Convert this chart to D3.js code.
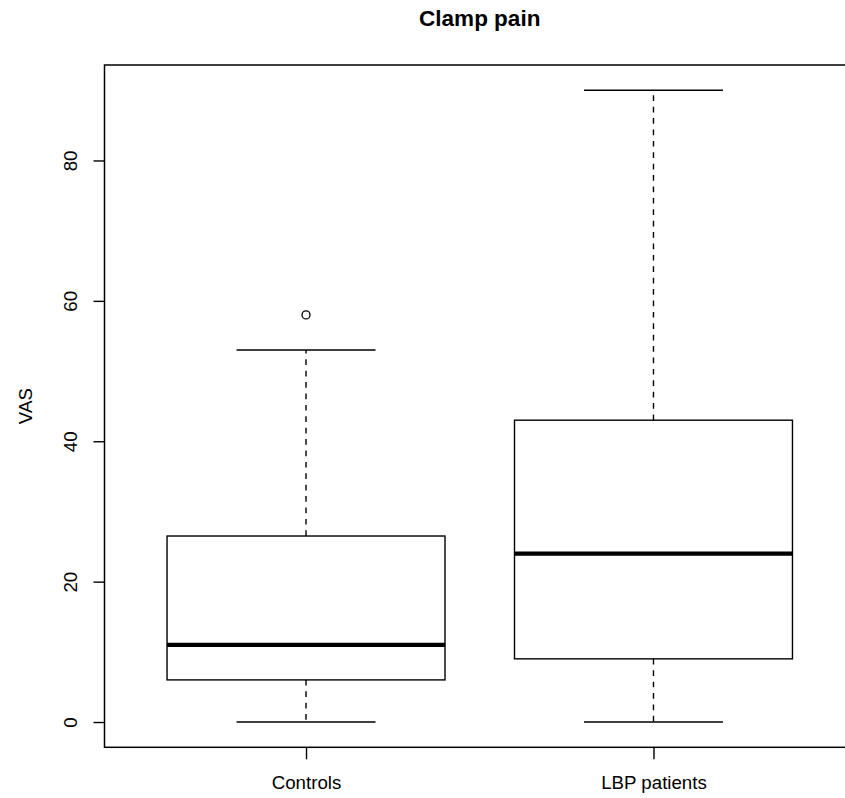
<!DOCTYPE html>
<html>
<head>
<meta charset="utf-8">
<script src="https://cdn.jsdelivr.net/npm/d3@7"></script>
<style>
  body { margin: 0; background: #fff; }
  text { font-family: "Liberation Sans", Arial, sans-serif; fill: #000; }
</style>
</head>
<body>
<div id="chart"></div>
<script>
const groups = ["Controls", "LBP patients"]
const lowerWhisker = [0, 0]
const lowerHinge = [6, 9]
const medians = [11, 24]
const upperHinge = [26.5, 43]
const upperWhisker = [53, 90]
const outliers = [[58], []]
const yTicks = [0, 20, 40, 60, 80]

const width = 845, height = 798
const plot = {left: 104.5, top: 65, bottom: 747.3, right: 855}

const svg = d3.select("#chart").append("svg")
  .attr("width", width)
  .attr("height", height)

// R style: x from 0.42 to 2.58, y padded 4% each side
const x = d3.scaleLinear().domain([0.42, 2.58]).range([plot.left, plot.right])
const y = d3.scaleLinear().domain([-3.6, 93.6]).range([plot.bottom, plot.top])

const boxHalf = 0.4, capHalf = 0.2

const data = groups.map((g, i) => ({
  name: g,
  pos: i + 1,
  lo: lowerWhisker[i],
  q1: lowerHinge[i],
  med: medians[i],
  q3: upperHinge[i],
  hi: upperWhisker[i],
  out: outliers[i]
}))

const boxes = svg.append("g").selectAll("g")
  .data(data)
  .join("g")

// whiskers
boxes.append("line")
  .attr("x1", d => x(d.pos)).attr("x2", d => x(d.pos))
  .attr("y1", d => y(d.q3)).attr("y2", d => y(d.hi))
  .attr("stroke", "#000").attr("stroke-width", 1.4)
  .attr("stroke-dasharray", "5.7,5.7")
boxes.append("line")
  .attr("x1", d => x(d.pos)).attr("x2", d => x(d.pos))
  .attr("y1", d => y(d.q1)).attr("y2", d => y(d.lo))
  .attr("stroke", "#000").attr("stroke-width", 1.4)
  .attr("stroke-dasharray", "5.7,5.7")

// staples
for (const k of ["lo", "hi"]) {
  boxes.append("line")
    .attr("x1", d => x(d.pos - capHalf)).attr("x2", d => x(d.pos + capHalf))
    .attr("y1", d => y(d[k])).attr("y2", d => y(d[k]))
    .attr("stroke", "#000").attr("stroke-width", 1.4)
}

// box
boxes.append("rect")
  .attr("x", d => x(d.pos - boxHalf))
  .attr("width", d => x(d.pos + boxHalf) - x(d.pos - boxHalf))
  .attr("y", d => y(d.q3))
  .attr("height", d => y(d.q1) - y(d.q3))
  .attr("fill", "none")
  .attr("stroke", "#000").attr("stroke-width", 1.4)

// median
boxes.append("line")
  .attr("x1", d => x(d.pos - boxHalf)).attr("x2", d => x(d.pos + boxHalf))
  .attr("y1", d => y(d.med)).attr("y2", d => y(d.med))
  .attr("stroke", "#000").attr("stroke-width", 4.2)

// outliers
boxes.selectAll("circle")
  .data(d => d.out.map(v => ({pos: d.pos, v})))
  .join("circle")
  .attr("cx", d => x(d.pos))
  .attr("cy", d => y(d.v))
  .attr("r", 4)
  .attr("fill", "none")
  .attr("stroke", "#000").attr("stroke-width", 1.3)

// frame
svg.append("rect")
  .attr("x", plot.left).attr("y", plot.top)
  .attr("width", plot.right - plot.left)
  .attr("height", plot.bottom - plot.top)
  .attr("fill", "none")
  .attr("stroke", "#000").attr("stroke-width", 1.5)

// y axis
const yAxis = svg.append("g")
  .attr("transform", `translate(${plot.left},0)`)
  .call(d3.axisLeft(y).tickValues(yTicks).tickSize(11).tickFormat(d3.format("d")))
yAxis.select(".domain").remove()
yAxis.selectAll(".tick line").attr("stroke", "#000").attr("stroke-width", 1.4)
yAxis.selectAll(".tick text")
  .attr("x", null).attr("dy", null)
  .attr("text-anchor", "middle")
  .attr("transform", "translate(-27.5,0) rotate(-90)")
  .style("font-size", "18.7px")
  .style("font-family", "'Liberation Sans', Arial, sans-serif")

// x axis
const xAxis = svg.append("g")
  .attr("transform", `translate(0,${plot.bottom})`)
  .call(d3.axisBottom(x).tickValues([1, 2]).tickSize(12).tickFormat(d => groups[d - 1]))
xAxis.select(".domain").remove()
xAxis.selectAll(".tick line").attr("stroke", "#000").attr("stroke-width", 1.4)
xAxis.selectAll(".tick text")
  .attr("y", 42).attr("dy", null)
  .style("font-size", "18.7px")
  .style("font-family", "'Liberation Sans', Arial, sans-serif")

// title and y label
svg.append("text")
  .attr("x", (plot.left + plot.right) / 2)
  .attr("y", 26)
  .attr("text-anchor", "middle")
  .style("font-size", "22.5px")
  .style("font-weight", "bold")
  .text("Clamp pain")

svg.append("text")
  .attr("transform", `translate(32,${(plot.top + plot.bottom) / 2}) rotate(-90)`)
  .attr("text-anchor", "middle")
  .style("font-size", "18.7px")
  .text("VAS")
</script>
</body>
</html>
